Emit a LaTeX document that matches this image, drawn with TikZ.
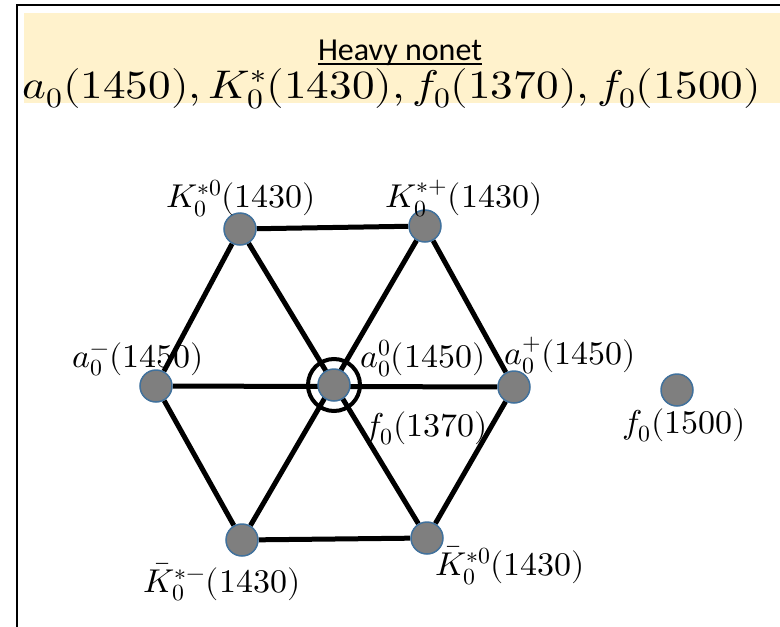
\documentclass[tikz,border=0pt]{standalone}
\usepackage{fontspec}
\usepackage{unicode-math}
\setmathfont{Latin Modern Math}
\newfontfamily\titlefont{Carlito}
\usetikzlibrary{backgrounds}
\definecolor{beige}{HTML}{FFF2CC}
\definecolor{dotgray}{HTML}{7F7F7F}
\definecolor{dotblue}{HTML}{41719C}
\newcommand{\lab}[1]{\scalebox{1.03}[1]{$#1$}}
\tikzset{
  dot/.style={circle, minimum size=32pt, inner sep=0pt, fill=dotgray, draw=dotblue, line width=1.5pt},
  lbl/.style={inner sep=0pt, anchor=base, font=\fontsize{33}{38}\selectfont},
  edge/.style={line width=5pt, black},
  ring/.style={circle, minimum size=52pt, inner sep=0pt, draw=black, line width=4pt},
}
\begin{document}
\begin{tikzpicture}[x=1pt, y=-1pt]
\useasboundingbox (0,0) rectangle (780,627);
\clip (0,0) rectangle (780,627);
% nodes
\node[ring] (ring) at (334,385) {};
\node[dot] (k0) at (240,229) {};
\node[dot] (kp) at (425,226) {};
\node[dot] (am) at (156,386) {};
\node[dot] (c) at (334,385) {};
\node[dot] (ap) at (514,387) {};
\node[dot] (kbm) at (242,540) {};
\node[dot] (kb0) at (427,538) {};
\node[dot] (f15) at (677,390) {};
% labels
\node[lbl] (l1) at (241,207) {\lab{K_0^{*0}(1430)}};
\node[lbl] (l2) at (464,207) {\lab{K_0^{*+}(1430)}};
\node[lbl] (l3) at (138,367) {\lab{a_0^{-}(1450)}};
\node[lbl] (l4) at (423,367) {\lab{a_0^{0}(1450)}};
\node[lbl] (l5) at (570,364) {\lab{a_0^{+}(1450)}};
\node[lbl] (l6) at (426,436) {\lab{f_0(1370)}};
\node[lbl] (l7) at (684,433) {\lab{f_0(1500)}};
\node[lbl] (l8) at (222,592) {\lab{\bar{K}_0^{*-}(1430)}};
\node[lbl] (l9) at (510,575) {\lab{\bar{K}_0^{*0}(1430)}};
% title
\node[inner sep=0pt, anchor=base, font=\titlefont\fontsize{32}{36}\selectfont] (t1) at (400,60) {Heavy nonet};
\draw[line width=1.5pt] ([yshift=-4pt]t1.base west) -- ([yshift=-4pt]t1.base east);
\node[inner sep=0pt, anchor=base, font=\fontsize{40}{44}\selectfont] (t2) at (392,98) {\scalebox{1.13}[1]{$a_0(1450), K_0^{*}(1430), f_0(1370), f_0(1500)$}};
\begin{pgfonlayer}{background}
  \fill[beige] (24,13) rectangle (800,103);
  \draw[line width=2pt, black] (17,5) rectangle (800,660);
  \draw[edge] (k0) -- (kp);
  \draw[edge] (kp) -- (ap);
  \draw[edge] (ap) -- (kb0);
  \draw[edge] (kb0) -- (kbm);
  \draw[edge] (kbm) -- (am);
  \draw[edge] (am) -- (k0);
  \draw[edge] (k0) -- (kb0);
  \draw[edge] (kp) -- (kbm);
  \draw[edge] (am) -- (ap);
\end{pgfonlayer}
\end{tikzpicture}
\end{document}
